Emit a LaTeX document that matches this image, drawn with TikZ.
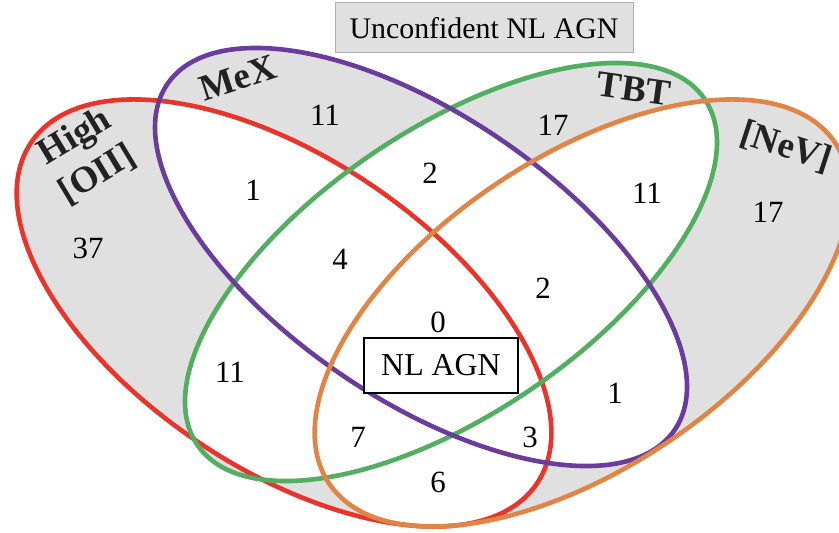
\documentclass[tikz,border=0pt]{standalone}
\usepackage{fontspec}
\setmainfont{Liberation Serif}
\definecolor{cRed}{HTML}{E8342A}
\definecolor{cPur}{HTML}{6A3C9B}
\definecolor{cGrn}{HTML}{52AE60}
\definecolor{cOrg}{HTML}{E28446}
\definecolor{cGry}{HTML}{E0E0E0}
\definecolor{cBox}{HTML}{B0B0B0}
\definecolor{cTxt}{HTML}{222222}
\tikzset{
  eR/.style={rotate around={-34:(284,220)}},
  eP/.style={rotate around={-34.3:(421,276)}},
  eG/.style={rotate around={34.3:(451,261)}},
  eO/.style={rotate around={34:(582,220)}},
  outline/.style={line width=4.6bp},
  num/.style={font=\fontsize{31}{31}\selectfont, text=black, inner sep=0pt},
  setlabel/.style={font=\fontsize{37}{44}\selectfont\bfseries, text=cTxt, inner sep=0pt},
}
\begin{document}
\begin{tikzpicture}[x=1bp,y=1bp]
\useasboundingbox (0,0) rectangle (839,533);
% grey fill for every set
\fill[cGry,eR] (284,220) ellipse [x radius=305, y radius=155];
\fill[cGry,eP] (421,276) ellipse [x radius=307, y radius=142];
\fill[cGry,eG] (451,261) ellipse [x radius=307, y radius=142];
\fill[cGry,eO] (582,220) ellipse [x radius=305, y radius=155];
% white overlaps
\begin{scope}
\clip[eR] (284,220) ellipse [x radius=305, y radius=155];
\fill[white,eP] (421,276) ellipse [x radius=307, y radius=142];
\fill[white,eG] (451,261) ellipse [x radius=307, y radius=142];
\fill[white,eO] (582,220) ellipse [x radius=305, y radius=155];
\end{scope}
\begin{scope}
\clip[eP] (421,276) ellipse [x radius=307, y radius=142];
\fill[white,eG] (451,261) ellipse [x radius=307, y radius=142];
\fill[white,eO] (582,220) ellipse [x radius=305, y radius=155];
\end{scope}
\begin{scope}
\clip[eG] (451,261) ellipse [x radius=307, y radius=142];
\fill[white,eO] (582,220) ellipse [x radius=305, y radius=155];
\end{scope}
% outlines
\draw[outline,cRed,eR] (284,220) ellipse [x radius=305, y radius=155];
\draw[outline,cGrn,eG] (451,261) ellipse [x radius=307, y radius=142];
\draw[outline,cPur,eP] (421,276) ellipse [x radius=307, y radius=142];
\draw[outline,cOrg,eO] (582,220) ellipse [x radius=305, y radius=155];
% header box
\node[draw=cBox, line width=1bp, fill=cGry, minimum width=298bp, minimum height=50bp,
      inner sep=0pt, font=\fontsize{30}{30}\selectfont] (unc) at (484,505) {Unconfident NL AGN};
% set labels
\node[setlabel, rotate=31, align=center] (lhigh) at (86,377.5) {High\\{[OII]}};
\node[setlabel, rotate=18] (lmex) at (238,455) {MeX};
\node[setlabel, rotate=-8] (ltbt) at (634,444) {TBT};
\node[setlabel, rotate=-18] (lnev) at (786,386) {[NeV]};
% counts
\node[num] (n37) at (88,285) {37};
\node[num] (n11a) at (325,418) {11};
\node[num] (n17a) at (553,408) {17};
\node[num] (n17b) at (768,321) {17};
\node[num] (n1a) at (253,343) {1};
\node[num] (n2a) at (430,360) {2};
\node[num] (n11b) at (647,340) {11};
\node[num] (n4) at (340,274) {4};
\node[num] (n2b) at (543,245) {2};
\node[num] (n0) at (438,211) {0};
\node[num] (n11c) at (230,161) {11};
\node[num] (n1b) at (615,140) {1};
\node[num] (n7) at (358,96) {7};
\node[num] (n3) at (530,96) {3};
\node[num] (n6) at (438,51) {6};
% core box
\node[draw=black, line width=1.5bp, fill=white, minimum width=154bp, minimum height=55bp,
      inner sep=0pt, font=\fontsize{32}{32}\selectfont] (core) at (441,167.5) {NL AGN};
\end{tikzpicture}
\end{document}
